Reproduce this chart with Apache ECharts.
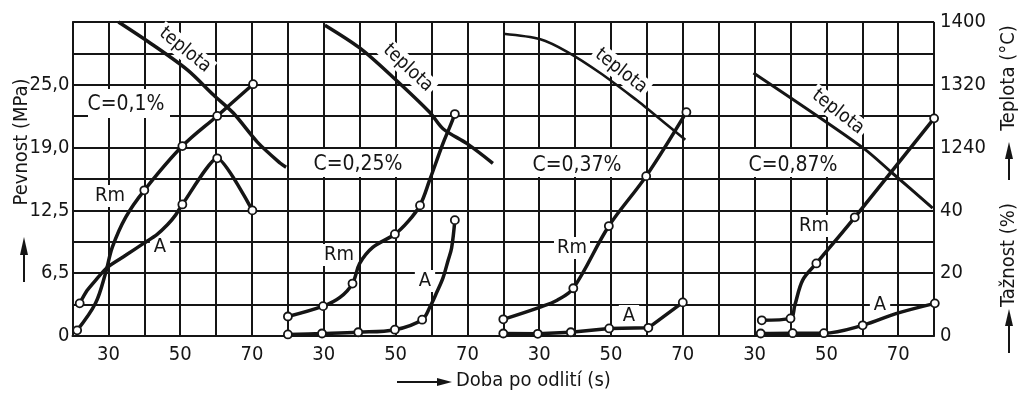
<!DOCTYPE html>
<html><head><meta charset="utf-8">
<script src="https://cdn.jsdelivr.net/npm/echarts@6/dist/echarts.min.js"></script>
<style>html,body{margin:0;padding:0;background:#fff}#c{width:1023px;height:395px}</style>
</head><body><div id="c"></div><script>
// ---------- data ----------
const panelLabels = ['C=0,1%', 'C=0,25%', 'C=0,37%', 'C=0,87%'];
const xTickLabels = [30, 50, 70];
const mpaTickLabels = ['0', '', '6,5', '', '12,5', '', '19,0', '', '25,0', '', ''];
const pctTickLabels = [0, 20, 40];
const tempTickLabels = [1240, 1320, 1400];

// Rm [time s, MPa, marker]
const rm1 = [[21.3,0.56,1],[26.4,3.25,0],[29.2,6.25,0],[31.1,8.84,0],[34.8,11.81,0],[40,14.5,1],[50.6,18.9,1],[60.3,21.9,1],[70.3,25.06,1]];
const rm2 = [[20,1.94,1],[29.8,2.97,1],[34.5,3.84,0],[38,5.22,1],[40,7.22,0],[43.7,8.84,0],[49.8,10.13,1],[53.5,11.4,0],[56.8,13.0,1],[59.5,15.53,0],[63.2,19.16,0],[65.1,20.81,0],[66.5,22.09,1]];
const rm3 = [[20,1.66,1],[30.3,2.88,0],[35,3.56,0],[39.5,4.75,1],[49.4,10.94,1],[59.8,15.91,1],[71,22.28,1]];
const rm4 = [[32,1.56,1],[40,1.75,1],[41.2,3.06,0],[43.4,5.56,0],[47.2,7.22,1],[57.9,11.81,1],[80,21.66,1]];
// A (tažnost) [time s, %, marker]
const a1 = [[22,10.4,1],[24,14.4,0],[26.4,17.7,0],[29.7,21.9,0],[34.8,25.7,0],[39.8,29.5,0],[43.5,32.3,0],[46.5,35.5,0],[48.7,38.5,0],[50.6,41.9,1],[60.3,56.6,1],[70.1,40.0,1]];
const a2 = [[20,0.5,1],[29.5,0.8,1],[39.6,1.2,1],[49.8,2.0,1],[57.4,5.2,1],[59.5,9.1,0],[61.5,14,0],[63.2,18.5,0],[64.6,24,0],[65.6,28,0],[66.5,36.9,1]];
const a3 = [[20,0.8,1],[29.6,0.7,1],[38.8,1.2,1],[49.5,2.4,1],[60.4,2.6,1],[70,10.7,1]];
const a4 = [[31.7,0.8,1],[40.6,0.9,1],[49.3,0.9,1],[60.1,3.4,1],[69.6,7.2,0],[80.2,10.4,1]];
// teplota [time s, °C]
const t1 = [[32.8,1400],[41.7,1373],[52,1339],[59.3,1307],[64.8,1284],[71.5,1247],[77.9,1220],[79.5,1215]];
const t2 = [[30.3,1396],[40,1367],[49.2,1330],[59.5,1285],[63.2,1264],[69.9,1245],[77.1,1220]];
const t3 = [[20,1385],[30.3,1378],[37.8,1362],[47,1335],[57.3,1300],[60,1290],[70.7,1250]];
const t4 = [[29.7,1335],[60.1,1240],[68.5,1207],[79.6,1163]];

// ---------- chart ----------
const FONT = "'DejaVu Sans Condensed','Liberation Sans Narrow','DejaVu Sans',sans-serif";
const INK = '#151515';
const rmSets = [rm1, rm2, rm3, rm4];
const aSets = [a1, a2, a3, a4];
const tSets = [t1, t2, t3, t4];
const tempWidths = [3.5, 3.5, 2.6, 3];
const aSmooth = [0.2, 0.35, 0, 0.35];

const GL = 72.5, GW = 215.4, GT = 22, GH = 314;
const grids = [], xAxes = [], yAxes = [], series = [];
const toData = arr => arr.map(p => p[2] ? { value: [p[0], p[1]] } : { value: [p[0], p[1]], symbol: 'none' });
const gridLine = { show: true, lineStyle: { color: INK, width: 2 } };

for (let i = 0; i < 4; i++) {
  grids.push({ left: GL + GW * i, top: GT, width: GW, height: GH });
  xAxes.push({
    gridIndex: i, type: 'value', min: 20, max: 80, interval: 10,
    axisLine: gridLine, axisTick: { show: false }, splitLine: gridLine,
    axisLabel: { formatter: v => xTickLabels.includes(v) ? String(v) : '', fontSize: 20, color: INK, margin: 9, fontFamily: FONT }
  });
  yAxes.push({
    gridIndex: i, type: 'value', min: 0, max: 31.25, interval: 3.125, position: 'left',
    axisLine: gridLine, axisTick: { show: false }, splitLine: gridLine,
    axisLabel: { show: i === 0, formatter: v => mpaTickLabels[Math.round(v / 3.125)] || '', fontSize: 20, color: INK, margin: 3, fontFamily: FONT }
  });
  yAxes.push({
    gridIndex: i, type: 'value', min: 0, max: 100, interval: 10, position: 'right',
    axisLine: { show: false }, axisTick: { show: false }, splitLine: { show: false },
    axisLabel: { show: i === 3, formatter: v => pctTickLabels.includes(Math.round(v)) ? String(Math.round(v)) : '', fontSize: 20, color: INK, margin: 6, fontFamily: FONT }
  });
  yAxes.push({
    gridIndex: i, type: 'value', min: 1000, max: 1400, interval: 40, position: 'right',
    axisLine: { show: false }, axisTick: { show: false }, splitLine: { show: false },
    axisLabel: { show: i === 3, formatter: v => tempTickLabels.includes(Math.round(v)) ? String(Math.round(v)) : '', fontSize: 20, color: INK, margin: 6, fontFamily: FONT }
  });
  const common = { type: 'line', xAxisIndex: i, clip: false, symbol: 'circle', symbolSize: 8,
    itemStyle: { color: '#fff', borderColor: INK, borderWidth: 1.8 }, z: 3 };
  series.push(Object.assign({}, common, { name: 'Rm' + i, yAxisIndex: 3 * i, smooth: 0.35, data: toData(rmSets[i]), lineStyle: { color: INK, width: 3.5 } }));
  series.push(Object.assign({}, common, { name: 'A' + i, yAxisIndex: 3 * i + 1, smooth: aSmooth[i], data: toData(aSets[i]), lineStyle: { color: INK, width: 3.5 } }));
  series.push(Object.assign({}, common, { name: 'T' + i, yAxisIndex: 3 * i + 2, smooth: 0.3, symbol: 'none', data: tSets[i], lineStyle: { color: INK, width: tempWidths[i] } }));
}

// ---------- annotations ----------
const g = [];
const txt = (text, x, y, size, opts) => Object.assign({
  type: 'text', x: x, y: y, z: 1, z2: 2,
  style: Object.assign({ text: text, fill: INK, font: size + 'px ' + FONT, textAlign: 'center', textVerticalAlign: 'middle', align: 'center', verticalAlign: 'middle' }, (opts && opts.style) || {})
}, opts && opts.el || {});
const box = (x, y, w, h) => ({ type: 'rect', z: 1, z2: 0, shape: { x: x, y: y, width: w, height: h }, style: { fill: '#fff' } });

// C= labels with white boxes
g.push(box(88, 89, 82, 29)); g.push(txt(panelLabels[0], 126, 105, 21));
g.push(box(290, 149, 132, 28)); g.push(txt(panelLabels[1], 358, 165, 21));
g.push(box(505, 149, 132, 28)); g.push(txt(panelLabels[2], 577, 166, 21));
g.push(box(722, 149, 124, 28)); g.push(txt(panelLabels[3], 793, 166, 21));

// teplota labels (rotated)
const tep = [[185, 50, 39], [408, 68, 43], [621, 71, 38], [838, 112, 38]];
tep.forEach(p => g.push(txt('teplota', p[0], p[1], 19, { el: { rotation: -p[2] * Math.PI / 180 }, style: { backgroundColor: '#fff', padding: [1, 3] } })));

// Rm / A labels
const rmPos = [[110, 196], [339, 255], [572, 248], [814, 226]];
const aPos = [[160, 247], [425, 281], [629, 316], [880, 305]];
rmPos.forEach(p => g.push(txt('Rm', p[0], p[1], 20, { style: { backgroundColor: '#fff', padding: [1, 3] } })));
aPos.forEach(p => g.push(txt('A', p[0], p[1], 20, { style: { backgroundColor: '#fff', padding: [1, 4] } })));

// axis titles
g.push(txt('Pevnost (MPa)', 22, 142, 20, { el: { rotation: Math.PI / 2 } }));
g.push(txt('Teplota (°C)', 1009, 78, 20, { el: { rotation: Math.PI / 2 } }));
g.push(txt('Tažnost (%)', 1009, 255, 20, { el: { rotation: Math.PI / 2 } }));
g.push(txt('Doba po odlití (s)', 456, 381, 20, { style: { textAlign: 'left', align: 'left' } }));

// arrows
const arrowStyle = { stroke: INK, lineWidth: 2 };
const line = (x1, y1, x2, y2) => ({ type: 'line', z: 1, shape: { x1, y1, x2, y2 }, style: arrowStyle });
const tri = pts => ({ type: 'polygon', z: 1, shape: { points: pts }, style: { fill: INK } });
g.push(line(24, 282, 24, 250)); g.push(tri([[20, 255], [28, 255], [24, 237]]));
g.push(line(1009, 180, 1009, 155)); g.push(tri([[1005, 159], [1013, 159], [1009, 142]]));
g.push(line(1009, 353, 1009, 322)); g.push(tri([[1005, 326], [1013, 326], [1009, 309]]));
g.push(line(397, 382, 440, 382)); g.push(tri([[437, 378], [437, 386], [452, 382]]));

const chart = echarts.init(document.getElementById('c'), null, { renderer: 'canvas' });
chart.setOption({
  animation: false,
  backgroundColor: '#fff',
  grid: grids, xAxis: xAxes, yAxis: yAxes, series: series,
  graphic: { elements: g }
});
</script></body></html>
